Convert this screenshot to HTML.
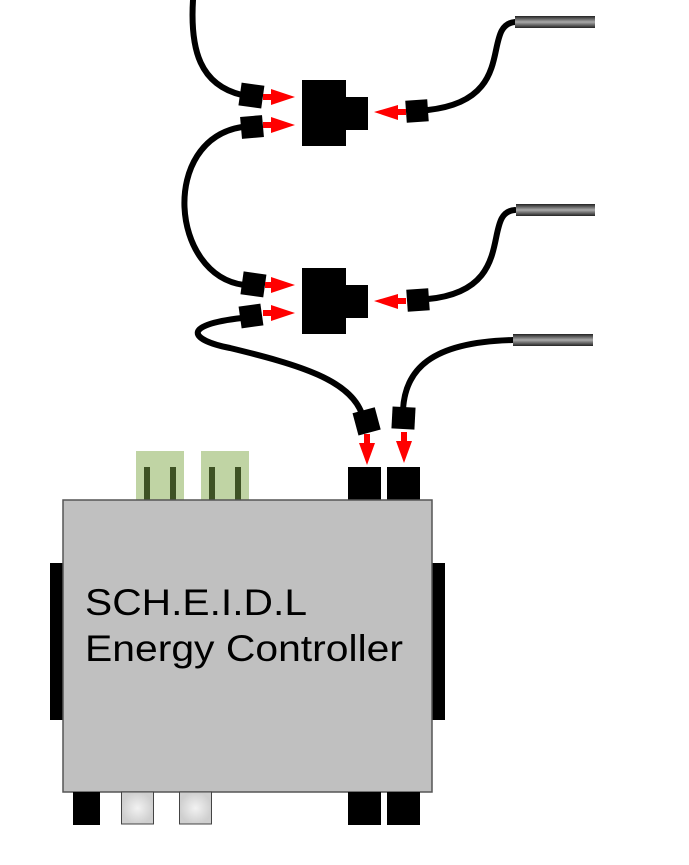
<!DOCTYPE html>
<html><head><meta charset="utf-8"><style>html,body{margin:0;padding:0;background:#fff}svg{display:block}</style></head>
<body>
<svg width="689" height="865" viewBox="0 0 689 865" xmlns="http://www.w3.org/2000/svg">
<defs>
<linearGradient id="tube" x1="0" y1="0" x2="0" y2="1">
<stop offset="0" stop-color="#222"/><stop offset="0.5" stop-color="#aaa"/><stop offset="1" stop-color="#222"/>
</linearGradient>
<radialGradient id="lg"><stop offset="0" stop-color="#f2f2f2"/><stop offset="1" stop-color="#cfcfcf"/></radialGradient>
</defs>
<g fill="none" stroke="#000" stroke-width="6" stroke-linecap="round">
<path d="M193,0 C190,50 200,85 242,95"/>
<path d="M428,110 C520,100 480,25 515,22"/>
<path d="M242,127 C160,140 170,275 244,285"/>
<path d="M428,299 C520,290 480,212 515,210"/>
<path d="M242,318 C180,325 190,340 230,348 C300,365 350,380 362,414"/>
<path d="M403,410 C405,370 430,342 513,340"/>
</g>
<rect x="515" y="16" width="80" height="12" fill="url(#tube)"/>
<rect x="516" y="204" width="79" height="12" fill="url(#tube)"/>
<rect x="513" y="334" width="80" height="12" fill="url(#tube)"/>
<path d="M302,80 H346 V97 H368 V130 H346 V146 H302 Z" fill="#000"/>
<path d="M302,268 H346 V285 H368 V318 H346 V334 H302 Z" fill="#000"/>
<g fill="#000">
<rect x="240" y="84" width="23" height="23" transform="rotate(8 251 95)"/>
<rect x="241" y="116" width="22" height="22" transform="rotate(-5 252 127)"/>
<rect x="406" y="100" width="22" height="22" transform="rotate(-4 417 111)"/>
<rect x="242" y="273" width="23" height="23" transform="rotate(8 254 284)"/>
<rect x="240" y="305" width="22" height="22" transform="rotate(-8 251 316)"/>
<rect x="407" y="289" width="22" height="22" transform="rotate(-4 418 300)"/>
<rect x="355" y="410" width="23" height="23" transform="rotate(-15 366 421)"/>
<rect x="392" y="407" width="23" height="22" transform="rotate(3 403 418)"/>
</g>
<g fill="#f00">
<path d="M263,94 H271 V89 L295,97 L271,105 V100 H263 Z"/>
<path d="M263,122 H271 V117 L295,125 L271,133 V128 H263 Z"/>
<path d="M406,109 H398 V105 L374,112 L398,120 V115 H406 Z"/>
<path d="M265,282 H271 V277 L295,285 L271,293 V288 H265 Z"/>
<path d="M263,310 H271 V305 L295,313 L271,321 V316 H263 Z"/>
<path d="M406,298 H398 V294 L374,301 L398,309 V304 H406 Z"/>
<path d="M364,434 V443 H359 L367,465 L375,443 H370 V434 Z"/>
<path d="M401,432 V441 H396 L404,463 L412,441 H407 V432 Z"/>
</g>
<rect x="136" y="451" width="48" height="49" fill="#c0d4a4"/>
<rect x="201" y="451" width="48" height="49" fill="#c0d4a4"/>
<g fill="#3e5224">
<rect x="144" y="467" width="6" height="33"/><rect x="170" y="467" width="6" height="33"/>
<rect x="209" y="467" width="6" height="33"/><rect x="235" y="467" width="6" height="33"/>
</g>
<rect x="348" y="467" width="33" height="33" fill="#000"/>
<rect x="387" y="467" width="33" height="33" fill="#000"/>
<rect x="50" y="563" width="14" height="157" fill="#000"/>
<rect x="431" y="563" width="14" height="157" fill="#000"/>
<rect x="63" y="500" width="369" height="292" fill="#c0c0c0" stroke="#555" stroke-width="1.5"/>
<rect x="73" y="792" width="27" height="33" fill="#000"/>
<rect x="121.5" y="792" width="32" height="32" fill="url(#lg)" stroke="#444"/>
<rect x="179.5" y="792" width="32" height="32" fill="url(#lg)" stroke="#444"/>
<rect x="348" y="792" width="33" height="33" fill="#000"/>
<rect x="387" y="792" width="33" height="33" fill="#000"/>
<g font-family="Liberation Sans, sans-serif" font-size="37" fill="#000">
<text x="85" y="615" textLength="222" lengthAdjust="spacingAndGlyphs">SCH.E.I.D.L</text>
<text x="85" y="661" textLength="318" lengthAdjust="spacingAndGlyphs">Energy Controller</text>
</g>
</svg>
</body></html>
